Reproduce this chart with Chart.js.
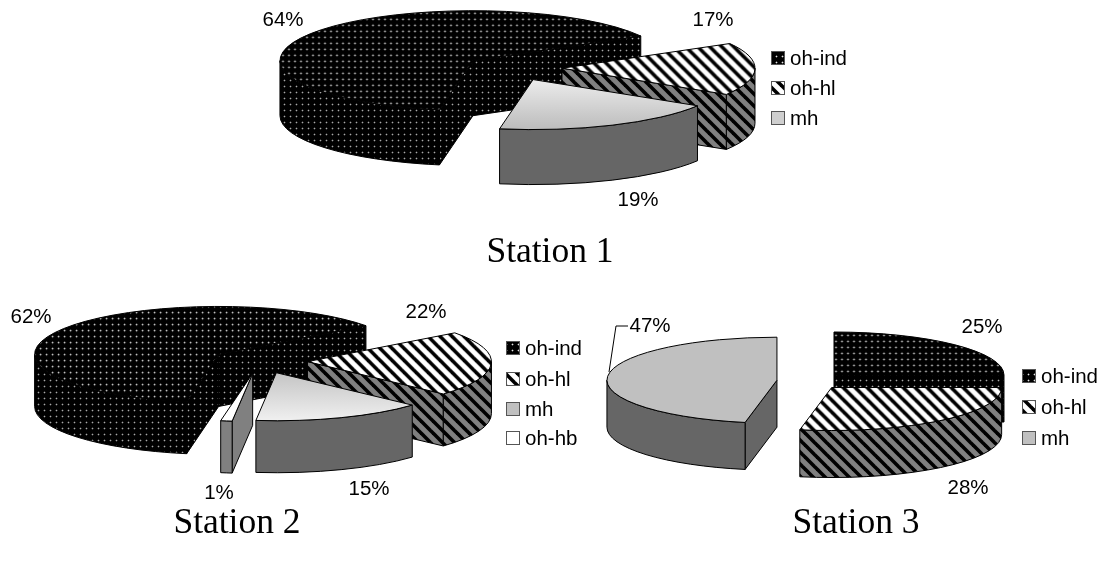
<!DOCTYPE html>
<html>
<head>
<meta charset="utf-8">
<title>Stations</title>
<script src="https://cdn.jsdelivr.net/npm/chart.js@4"></script>
<style>
    html, body { margin: 0; padding: 0; background: #fff; }
    #page { position: relative; width: 1105px; height: 570px; overflow: hidden; }
    #page canvas { position: absolute; left: 0; top: 0; }
    .title {
        position: absolute;
        font-family: "Liberation Serif", serif;
        font-size: 35.5px;
        line-height: 40px;
        color: #000;
        transform: translateX(-50%);
        white-space: nowrap;
    }
</style>
</head>
<body>
<div id="page">
    <canvas id="station1" width="1105" height="570"></canvas>
    <canvas id="station2" width="1105" height="570"></canvas>
    <canvas id="station3" width="1105" height="570"></canvas>
    <div class="title" style="left:550px;top:230px">Station 1</div>
    <div class="title" style="left:237px;top:501px">Station 2</div>
    <div class="title" style="left:856px;top:501px">Station 3</div>
</div>

<script>
// --- Data --------------------------------------------------------------------------------------------
const station1Labels = ['oh-ind', 'oh-hl', 'mh']
const station1Values = [64, 17, 19]

const station2Labels = ['oh-ind', 'oh-hl', 'mh', 'oh-hb']
const station2Values = [62, 22, 15, 1]

const station3Labels = ['oh-ind', 'oh-hl', 'mh']
const station3Values = [25, 28, 47]

// --- Fills -------------------------------------------------------------------------------------------
function makeTile(size, paint) {
    const tile = document.createElement('canvas')
    tile.width = size
    tile.height = size
    paint(tile.getContext('2d'))
    return tile
}

function dotTile(dotColor, haloColor) {
    return makeTile(6, t => {
        t.fillStyle = '#000'
        t.fillRect(0, 0, 6, 6)
        t.fillStyle = haloColor
        t.fillRect(1, 2, 3, 1)
        t.fillRect(2, 1, 1, 3)
        t.fillStyle = dotColor
        t.fillRect(2, 2, 1, 1)
    })
}

function hatchTile(background) {
    return makeTile(12, t => {
        t.fillStyle = background
        t.fillRect(0, 0, 12, 12)
        t.strokeStyle = '#000'
        t.lineWidth = 3.6
        // Three strokes so that the stripe stays continuous over the tile edges
        ;[-12, 0, 12].forEach(shift => {
            t.beginPath()
            t.moveTo(shift - 2, -2)
            t.lineTo(shift + 14, 14)
            t.stroke()
        })
    })
}

const scratch = document.createElement('canvas').getContext('2d')
const dotsTop = scratch.createPattern(dotTile('#e4e4e4', '#4a4a4a'), 'repeat')
const dotsWall = scratch.createPattern(dotTile('#a8a8a8', '#303030'), 'repeat')
const hatchTop = scratch.createPattern(hatchTile('#fff'), 'repeat')
const hatchWall = scratch.createPattern(hatchTile('#808080'), 'repeat')

// Gradient running from the tip of the slice out to its rim
function radialShade(tipColor, rimColor) {
    return context => {
        const { chart } = context
        const mid = chart.height / 2
        const shade = chart.ctx.createLinearGradient(0, mid, 0, mid + context.dataset.radius)
        shade.addColorStop(0, tipColor)
        shade.addColorStop(1, rimColor)
        return shade
    }
}

// --- 3D pie plugin -----------------------------------------------------------------------------------
// Chart.js lays out the slices, the plugin flattens them and adds the walls.
function drawWalls(ctx, cx, cy, view, start, end, fill) {
    ctx.fillStyle = fill
    ctx.strokeStyle = '#000'
    ctx.lineWidth = 1

    // A cut face only shows when it turns towards the viewer
    const faces = []
    if (Math.cos(start) < 0) faces.push(start)
    if (Math.cos(end) > 0) faces.push(end)

    faces.forEach(angle => {
        const px = cx + view.rx * Math.cos(angle)
        const py = cy + view.ry * Math.sin(angle)
        ctx.beginPath()
        ctx.moveTo(cx, cy)
        ctx.lineTo(px, py)
        ctx.lineTo(px, py + view.depth)
        ctx.lineTo(cx, cy + view.depth)
        ctx.closePath()
        ctx.fill()
        ctx.stroke()
    })

    // Rim is only visible on the front half of the ellipse
    ;[0, 2 * Math.PI].forEach(turn => {
        const low = Math.max(start, turn)
        const high = Math.min(end, turn + Math.PI)
        if (high <= low) return
        ctx.beginPath()
        ctx.ellipse(cx, cy, view.rx, view.ry, 0, low, high)
        ctx.ellipse(cx, cy + view.depth, view.rx, view.ry, 0, high, low, true)
        ctx.closePath()
        ctx.fill()
        ctx.stroke()
    })
}

const pie3d = {
    id: 'pie3d',
    beforeDatasetDraw(chart, args, opts) {
        const ctx = chart.ctx
        const view = opts.view
        const squash = view.ry / view.rx

        args.meta.data.forEach((arc, i) => {
            const mid = (arc.startAngle + arc.endAngle) / 2
            const cx = view.x + Math.cos(mid) * view.explode
            const cy = view.y + Math.sin(mid) * view.explode * squash

            ctx.save()
            drawWalls(ctx, cx, cy, view, arc.startAngle, arc.endAngle, opts.walls[i])

            ctx.save()
            ctx.translate(cx, cy)
            ctx.scale(1, squash)
            ctx.translate(-arc.x, -arc.y)
            arc.draw(ctx)
            ctx.restore()

            ctx.strokeStyle = '#000'
            ctx.lineWidth = 1
            ctx.beginPath()
            ctx.moveTo(cx, cy)
            ctx.ellipse(cx, cy, view.rx, view.ry, 0, arc.startAngle, arc.endAngle)
            ctx.closePath()
            ctx.stroke()
            ctx.restore()
        })

        return false
    },
    afterDraw(chart, args, opts) {
        const ctx = chart.ctx
        ctx.save()
        ctx.font = '20.5px "Liberation Sans", Arial, sans-serif'
        ctx.fillStyle = '#000'
        ctx.textBaseline = 'middle'

        // Percent labels
        ctx.textAlign = 'center'
        chart.data.datasets[0].data.forEach((value, i) => {
            ctx.fillText(`${value}%`, opts.labelX[i], opts.labelY[i])
        })

        // Legend
        ctx.textAlign = 'left'
        chart.data.labels.forEach((label, i) => {
            const y = opts.legend.y[i]
            ctx.fillStyle = opts.swatches[i]
            ctx.fillRect(opts.legend.x, y - 7, 14, 14)
            ctx.strokeStyle = '#555'
            ctx.lineWidth = 1
            ctx.strokeRect(opts.legend.x + 0.5, y - 6.5, 13, 13)
            ctx.fillStyle = '#000'
            ctx.fillText(label, opts.legend.x + 19, y + 1)
        })

        // Leader line
        if (opts.leader) {
            ctx.strokeStyle = '#000'
            ctx.beginPath()
            opts.leader.forEach(([x, y]) => ctx.lineTo(x, y))
            ctx.stroke()
        }
        ctx.restore()
    }
}

// --- Charts Creation ---------------------------------------------------------------------------------
function createPie(id, labels, values, fills, style) {
    return new Chart(document.getElementById(id), {
        type: 'pie',
        data: {
            labels: labels,
            datasets: [{
                data: values,
                // One function for the whole list, Chart.js does not call functions inside an array
                backgroundColor: context => {
                    const fill = fills[context.index]
                    return typeof fill === 'function' ? fill(context) : fill
                },
                borderWidth: 0,
                radius: style.view.rx,
                rotation: style.rotation,
                clip: false
            }]
        },
        options: {
            responsive: false,
            animation: false,
            events: [],
            plugins: {
                legend: { display: false },
                tooltip: { enabled: false },
                pie3d: style
            }
        },
        plugins: [pie3d]
    })
}

// The slice is flattened when drawn, so top patterns get the opposite stretch to stay upright
function upright(tile, view) {
    const pattern = scratch.createPattern(tile, 'repeat')
    pattern.setTransform(new DOMMatrix().scale(1, view.rx / view.ry))
    return pattern
}

const view1 = { x: 513, y: 68, rx: 193, ry: 50, depth: 55, explode: 49 }
const view2 = { x: 259.5, y: 361, rx: 184, ry: 48, depth: 52, explode: 48 }
const view3 = { x: 810.3, y: 381, rx: 170, ry: 43, depth: 47, explode: 33.5 }

createPie('station1', station1Labels, station1Values,
    [upright(dotTile('#e4e4e4', '#4a4a4a'), view1), upright(hatchTile('#fff'), view1), radialShade('#ececec', '#bcbcbc')], {
    view: view1,
    rotation: 190,
    walls: [dotsWall, hatchWall, '#666'],
    swatches: [dotsTop, hatchTop, '#cfcfcf'],
    labelX: [283, 713, 638],
    labelY: [20, 20, 200],
    legend: { x: 771, y: [58, 88, 118] }
})

createPie('station2', station2Labels, station2Values,
    [upright(dotTile('#e4e4e4', '#4a4a4a'), view2), upright(hatchTile('#fff'), view2), radialShade('#c4c4c4', '#f0f0f0'), '#fff'], {
    view: view2,
    rotation: 190,
    walls: [dotsWall, hatchWall, '#666', '#808080'],
    swatches: [dotsTop, hatchTop, '#c0c0c0', '#fff'],
    labelX: [31, 426, 369, 219],
    labelY: [317, 312, 489, 493],
    legend: { x: 506, y: [348, 379, 409, 438] }
})

createPie('station3', station3Labels, station3Values,
    [upright(dotTile('#e4e4e4', '#4a4a4a'), view3), upright(hatchTile('#fff'), view3), '#c0c0c0'], {
    view: view3,
    rotation: 0,
    walls: [dotsWall, hatchWall, '#666'],
    swatches: [dotsTop, hatchTop, '#c0c0c0'],
    labelX: [982, 968, 650],
    labelY: [327, 488, 326],
    legend: { x: 1022, y: [376, 407, 438] },
    leader: [[628, 326], [616, 326], [609, 372]]
})
</script>
</body>
</html>
